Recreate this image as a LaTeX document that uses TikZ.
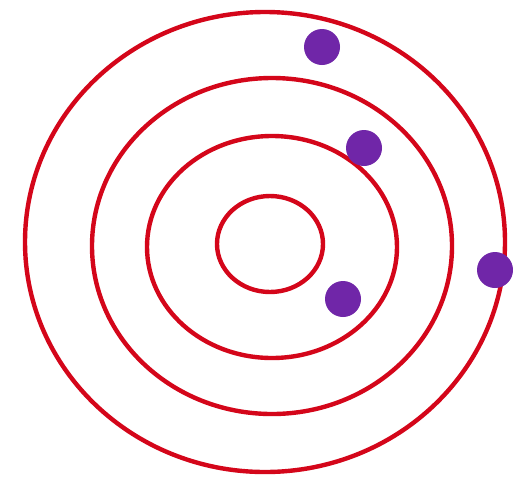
\documentclass[tikz,border=0pt]{standalone}
\definecolor{ringred}{RGB}{212,6,26}
\definecolor{dotpurple}{RGB}{112,38,168}
\tikzset{
  ring/.style={draw=ringred, line width=4.4pt},
  dot/.style={circle, fill=dotpurple, inner sep=0pt, minimum size=36pt}
}
\begin{document}
\begin{tikzpicture}[x=1pt,y=-1pt]
\useasboundingbox (0,0) rectangle (513,480);
\fill[white] (0,0) rectangle (513,480);
\draw[ring] (265,242) ellipse [x radius=240, y radius=230];
\draw[ring] (272,246) ellipse [x radius=180, y radius=168];
\draw[ring] (272,247) ellipse [x radius=125, y radius=111];
\draw[ring] (270,244) ellipse [x radius=53, y radius=48];
\node[dot] (d1) at (322,47) {};
\node[dot] (d2) at (364,148) {};
\node[dot] (d3) at (343,299) {};
\node[dot] (d4) at (495,270) {};
\end{tikzpicture}
\end{document}
